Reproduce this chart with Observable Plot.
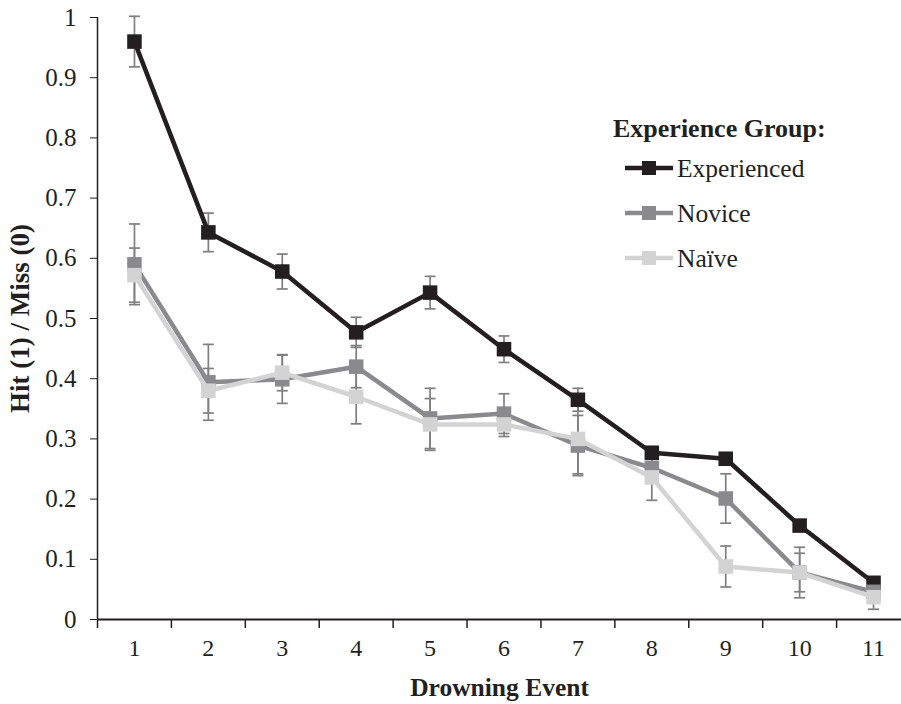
<!DOCTYPE html>
<html>
<head>
<meta charset="utf-8">
<script src="https://cdn.jsdelivr.net/npm/d3@7"></script>
<script src="https://cdn.jsdelivr.net/npm/@observablehq/plot@0.6"></script>
<style>
  html, body { margin: 0; padding: 0; background: #fff; }
  #wrap { position: relative; width: 901px; height: 704px; overflow: hidden; }
  #wrap svg { font-family: "Liberation Serif", "Times New Roman", serif; }
  g[aria-label="y-axis label"] text { font-weight: bold; font-size: 27px; }
  g[aria-label="x-axis label"] text { font-weight: bold; font-size: 25.5px; }
  #legend { position: absolute; left: 0; top: 0; pointer-events: none; }
</style>
</head>
<body>
<div id="wrap"></div>
<script>
// ---- data ----
const events = [1, 2, 3, 4, 5, 6, 7, 8, 9, 10, 11];
const groups = ["Experienced", "Novice", "Naïve"];
const experienced    = [0.96, 0.643, 0.578, 0.477, 0.543, 0.449, 0.365, 0.277, 0.267, 0.156, 0.061];
const experiencedErr = [0.042, 0.032, 0.029, 0.025, 0.027, 0.022, 0.019, 0.010, 0.010, 0.006, 0.006];
const novice         = [0.59, 0.394, 0.399, 0.42, 0.334, 0.342, 0.289, 0.252, 0.201, 0.078, 0.046];
const noviceErr      = [0.067, 0.063, 0.040, 0.035, 0.050, 0.033, 0.050, 0.020, 0.041, 0.042, 0.010];
const naive          = [0.572, 0.38, 0.41, 0.37, 0.324, 0.324, 0.30, 0.236, 0.088, 0.078, 0.037];
const naiveErr       = [0.045, 0.037, 0.030, 0.045, 0.043, 0.020, 0.058, 0.038, 0.034, 0.032, 0.020];
const colors = ["#231f20", "#8a8a8c", "#d3d3d4"];
const yTicks = [0, 0.1, 0.2, 0.3, 0.4, 0.5, 0.6, 0.7, 0.8, 0.9, 1];
const xBoundaries = [0.5, 1.5, 2.5, 3.5, 4.5, 5.5, 6.5, 7.5, 8.5, 9.5, 10.5];
const legendTitle = "Experience Group:";
const xTitle = "Drowning Event";
const yTitle = "Hit (1) / Miss (0)";

// ---- build table ----
const seriesVals = [experienced, novice, naive];
const seriesErr = [experiencedErr, noviceErr, naiveErr];
const rows = [];
groups.forEach((g, gi) => {
  events.forEach((e, i) => {
    rows.push({group: g, event: e, value: seriesVals[gi][i], lo: seriesVals[gi][i] - seriesErr[gi][i], hi: seriesVals[gi][i] + seriesErr[gi][i]});
  });
});

// horizontal-line symbol for error bar caps
const capSymbol = {
  draw(ctx, size) {
    const w = Math.sqrt(size / Math.PI);
    ctx.moveTo(-w, 0);
    ctx.lineTo(w, 0);
  }
};

const ink = "#231f20";
const errColor = "#7f7f7f";

const marks = [];
// error bars (under the lines)
marks.push(Plot.ruleX(rows, {x: "event", y1: "lo", y2: "hi", stroke: errColor, strokeWidth: 1.7}));
marks.push(Plot.dot(rows, {x: "event", y: "hi", symbol: capSymbol, r: 5.5, stroke: errColor, strokeWidth: 1.7, fill: "none"}));
marks.push(Plot.dot(rows, {x: "event", y: "lo", symbol: capSymbol, r: 5.5, stroke: errColor, strokeWidth: 1.7, fill: "none"}));
// series: lines + square markers, in drawing order
groups.forEach((g, gi) => {
  const d = rows.filter(r => r.group === g);
  marks.push(Plot.line(d, {x: "event", y: "value", stroke: colors[gi], strokeWidth: 4.5}));
  marks.push(Plot.dot(d, {x: "event", y: "value", symbol: "square", r: 8.2, fill: colors[gi], stroke: "none"}));
});
// axes
marks.push(Plot.axisY(yTicks, {
  tickSize: 7, tickPadding: 14, tickFormat: d => String(d), fontSize: 25, stroke: ink, fill: ink,
  label: yTitle, labelAnchor: "center", labelArrow: "none", labelOffset: 88
}));
marks.push(Plot.axisX(xBoundaries, {tickSize: 9, tickFormat: () => "", stroke: ink, strokeWidth: 1.5, label: null}));
marks.push(Plot.axisX(events, {
  tickSize: 0, tickPadding: 19, fontSize: 24, fill: ink, tickFormat: d => String(d),
  label: xTitle, labelAnchor: "center", labelArrow: "none", labelOffset: 76
}));
marks.push(Plot.ruleX([0.5], {stroke: ink, strokeWidth: 1.5}));
marks.push(Plot.ruleY([0], {stroke: ink, strokeWidth: 2}));

const chart = Plot.plot({
  width: 901,
  height: 704,
  marginLeft: 97,
  marginRight: 0,
  marginTop: 17,
  marginBottom: 85,
  style: {fontFamily: '"Liberation Serif", "Times New Roman", serif', fontSize: "24px", color: ink, background: "#fff"},
  x: {type: "linear", domain: [0.5, 11.5], range: [97, 910]},
  y: {domain: [0, 1]},
  marks
});
document.getElementById("wrap").appendChild(chart);

// ---- legend overlay ----
const ns = "http://www.w3.org/2000/svg";
const leg = document.createElementNS(ns, "svg");
leg.setAttribute("id", "legend");
leg.setAttribute("width", 901);
leg.setAttribute("height", 704);
leg.style.fontFamily = '"Liberation Serif", "Times New Roman", serif';
const t = document.createElementNS(ns, "text");
t.setAttribute("x", 613); t.setAttribute("y", 128);
t.setAttribute("dy", "0.35em");
t.setAttribute("font-weight", "bold");
t.setAttribute("font-size", 26);
t.setAttribute("fill", ink);
t.textContent = legendTitle;
leg.appendChild(t);
groups.forEach((g, gi) => {
  const cy = 168 + gi * 45;
  const l = document.createElementNS(ns, "line");
  l.setAttribute("x1", 625); l.setAttribute("x2", 673);
  l.setAttribute("y1", cy); l.setAttribute("y2", cy);
  l.setAttribute("stroke", colors[gi]); l.setAttribute("stroke-width", 4.5);
  leg.appendChild(l);
  const r = document.createElementNS(ns, "rect");
  r.setAttribute("x", 642); r.setAttribute("y", cy - 7);
  r.setAttribute("width", 14); r.setAttribute("height", 14);
  r.setAttribute("fill", colors[gi]);
  leg.appendChild(r);
  const tx = document.createElementNS(ns, "text");
  tx.setAttribute("x", 677); tx.setAttribute("y", cy);
  tx.setAttribute("dy", "0.35em");
  tx.setAttribute("font-size", 25.5);
  tx.setAttribute("fill", ink);
  tx.textContent = g;
  leg.appendChild(tx);
});
document.getElementById("wrap").appendChild(leg);
</script>
</body>
</html>
